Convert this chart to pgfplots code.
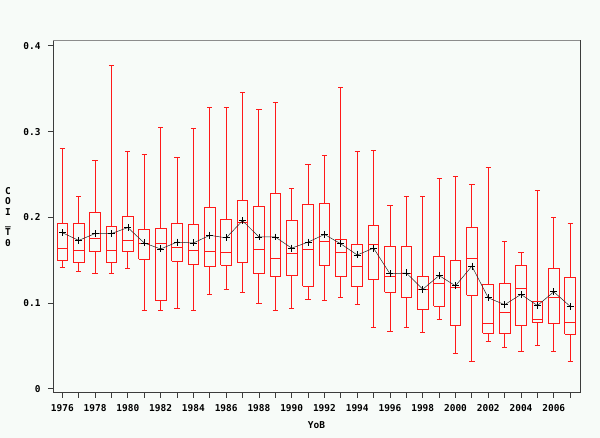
\documentclass[border=0pt]{standalone}
\usepackage{pgfplots}
\pgfplotsset{compat=1.18}
\usepackage{pgfplotstable}
\usepackage{fontspec}
\newfontfamily\sasfont{DejaVu Sans Mono}

\definecolor{bg}{RGB}{247,251,248}
\definecolor{boxred}{RGB}{255,25,25}
\definecolor{frame}{RGB}{60,60,60}

% position (year-1976), lower whisker, q1, median, q3, upper whisker
\newcommand{\bx}[6]{%
  \pgfmathsetmacro\xl{#1-0.325}%
  \pgfmathsetmacro\xr{#1+0.325}%
  \pgfmathsetmacro\cl{#1-0.16}%
  \pgfmathsetmacro\cr{#1+0.16}%
  \edef\doit{%
    \noexpand\addplot[boxred, line width=0.9pt] coordinates {(\xl,#3) (\xr,#3) (\xr,#5) (\xl,#5) (\xl,#3)};
    \noexpand\addplot[boxred, line width=0.9pt] coordinates {(\xl,#4) (\xr,#4)};
    \noexpand\addplot[boxred, line width=0.9pt] coordinates {(#1,#5) (#1,#6)};
    \noexpand\addplot[boxred, line width=0.9pt] coordinates {(#1,#3) (#1,#2)};
    \noexpand\addplot[boxred, line width=0.9pt] coordinates {(\cl,#6) (\cr,#6)};
    \noexpand\addplot[boxred, line width=0.9pt] coordinates {(\cl,#2) (\cr,#2)};
  }\doit}

% pos = year - 1976
\pgfplotstableread{
pos year mean
0 1976 0.182
1 1977 0.173
2 1978 0.181
3 1979 0.181
4 1980 0.188
5 1981 0.170
6 1982 0.163
7 1983 0.171
8 1984 0.170
9 1985 0.179
10 1986 0.176
11 1987 0.196
12 1988 0.177
13 1989 0.177
14 1990 0.164
15 1991 0.171
16 1992 0.180
17 1993 0.169
18 1994 0.156
19 1995 0.164
20 1996 0.134
21 1997 0.135
22 1998 0.116
23 1999 0.132
24 2000 0.120
25 2001 0.143
26 2002 0.106
27 2003 0.098
28 2004 0.110
29 2005 0.097
30 2006 0.113
31 2007 0.096
}\meantab

\begin{document}
\begin{tikzpicture}
\fill[bg] (-53bp,-45.3bp) rectangle (547bp,392.7bp);
\begin{axis}[
  name=ax, at={(0,0)}, anchor=south west,
  scale only axis, width=527bp, height=351.7bp,
  xmin=-0.57, xmax=31.6, ymin=-0.0047, ymax=0.4057,
  axis background/.style={fill=bg},
  axis line style={frame, line width=1pt},
  tick style={frame, line width=0.8pt},
  tick align=outside, major tick length=5bp,
  xtick={0,...,31},
  xticklabels={1976,,1978,,1980,,1982,,1984,,1986,,1988,,1990,,1992,,1994,,1996,,1998,,2000,,2002,,2004,,2006,},
  ytick={0,0.1,0.2,0.3,0.4},
  yticklabels={0,0.1,0.2,0.3,0.4},
  xtick pos=bottom, ytick pos=left,
  tick label style={font=\sasfont\bfseries\fontsize{9.5}{10}\selectfont},
  xticklabel style={yshift=-3bp},
  yticklabel style={xshift=-4bp},
  xlabel={YoB},
  xlabel style={font=\sasfont\bfseries\fontsize{9.5}{10}\selectfont, yshift=-3bp},
]
\bx{0}{0.142}{0.150}{0.164}{0.1925}{0.280}
\bx{1}{0.137}{0.147}{0.1615}{0.1925}{0.2245}
\bx{2}{0.135}{0.160}{0.1755}{0.206}{0.2665}
\bx{3}{0.135}{0.147}{0.1615}{0.189}{0.3766}
\bx{4}{0.1405}{0.160}{0.173}{0.201}{0.2766}
\bx{5}{0.0915}{0.151}{0.170}{0.186}{0.2735}
\bx{6}{0.0915}{0.103}{0.170}{0.187}{0.305}
\bx{7}{0.0934}{0.149}{0.165}{0.1925}{0.2696}
\bx{8}{0.0915}{0.145}{0.1615}{0.192}{0.3034}
\bx{9}{0.110}{0.143}{0.1607}{0.211}{0.328}
\bx{10}{0.116}{0.144}{0.1595}{0.1977}{0.328}
\bx{11}{0.1128}{0.1475}{0.1937}{0.220}{0.3454}
\bx{12}{0.0996}{0.134}{0.162}{0.2124}{0.326}
\bx{13}{0.0915}{0.131}{0.152}{0.2276}{0.3342}
\bx{14}{0.0934}{0.1323}{0.1583}{0.196}{0.2338}
\bx{15}{0.1043}{0.1198}{0.162}{0.215}{0.262}
\bx{16}{0.1031}{0.144}{0.172}{0.2163}{0.272}
\bx{17}{0.1066}{0.1307}{0.1587}{0.1743}{0.3517}
\bx{18}{0.0985}{0.119}{0.1428}{0.1685}{0.2766}
\bx{19}{0.072}{0.1276}{0.1688}{0.191}{0.2777}
\bx{20}{0.0673}{0.1128}{0.1315}{0.1657}{0.214}
\bx{21}{0.072}{0.1066}{0.1346}{0.1665}{0.2245}
\bx{22}{0.0658}{0.0926}{0.116}{0.1315}{0.2245}
\bx{23}{0.081}{0.0961}{0.1225}{0.154}{0.245}
\bx{24}{0.0413}{0.0735}{0.1183}{0.1502}{0.2478}
\bx{25}{0.0323}{0.1093}{0.1521}{0.1887}{0.238}
\bx{26}{0.0548}{0.0646}{0.0763}{0.1214}{0.2579}
\bx{27}{0.0478}{0.0646}{0.0895}{0.1225}{0.172}
\bx{28}{0.044}{0.0732}{0.1171}{0.1435}{0.159}
\bx{29}{0.0506}{0.0775}{0.081}{0.1015}{0.231}
\bx{30}{0.044}{0.0763}{0.1066}{0.140}{0.1995}
\bx{31}{0.0323}{0.0638}{0.0775}{0.1295}{0.193}
\addplot[black!85, line width=0.5pt, mark=+, mark size=3.5pt,
  mark options={line width=0.7pt, black}] table[x=pos, y=mean] {\meantab};
\end{axis}
\draw[gray!90, line width=1pt] (ax.north west) -- (ax.north east);
\node[font=\sasfont\bfseries\fontsize{9.5}{10.4}\selectfont, align=center, inner sep=0pt]
  at ([xshift=-45bp]ax.west) {C\\O\\I\\\_\\T\\0};
\end{tikzpicture}
\end{document}
